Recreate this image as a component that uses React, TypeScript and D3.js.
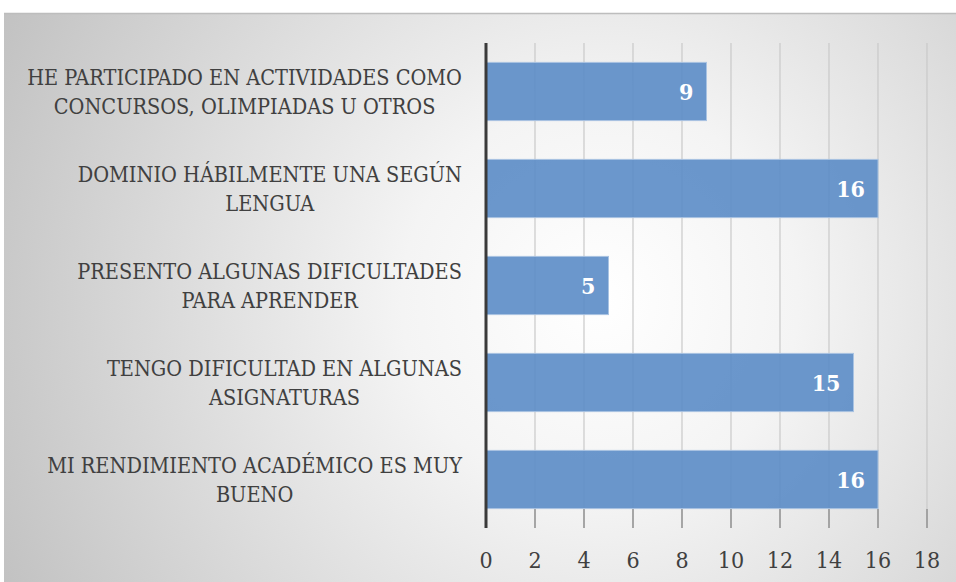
import React, { useEffect, useRef } from "react";
import * as d3 from "d3";

const categories: string[][] = [
  ["HE PARTICIPADO EN ACTIVIDADES COMO", "CONCURSOS, OLIMPIADAS U OTROS"],
  ["DOMINIO HÁBILMENTE UNA SEGÚN", "LENGUA"],
  ["PRESENTO ALGUNAS DIFICULTADES", "PARA APRENDER"],
  ["TENGO DIFICULTAD EN ALGUNAS", "ASIGNATURAS"],
  ["MI RENDIMIENTO ACADÉMICO ES MUY", "BUENO"],
];
const values: number[] = [9, 16, 5, 15, 16];
const ticks: number[] = [0, 2, 4, 6, 8, 10, 12, 14, 16, 18];

const W = 956;
const H = 582;
const FONT = "DejaVu Serif Condensed, DejaVu Serif, serif";

export default function App() {
  const ref = useRef<SVGSVGElement>(null);
  useEffect(() => {
    const svg = d3.select(ref.current!);
    svg.selectAll("*").remove();
    const defs = svg.append("defs");
    const g = defs
      .append("radialGradient")
      .attr("id", "bg")
      .attr("gradientUnits", "userSpaceOnUse")
      .attr("cx", 600)
      .attr("cy", 300)
      .attr("r", 660);
    g.append("stop").attr("offset", "0").attr("stop-color", "#ffffff");
    g.append("stop").attr("offset", "0.3").attr("stop-color", "#f4f4f4");
    g.append("stop").attr("offset", "1").attr("stop-color", "#c2c2c2");

    svg.append("rect").attr("x", 4).attr("y", 13).attr("width", W - 4).attr("height", H - 13).attr("fill", "url(#bg)");
    svg.append("line").attr("x1", 4).attr("x2", W).attr("y1", 13.5).attr("y2", 13.5).attr("stroke", "#bdbdbd").attr("stroke-width", 1.5);

    const x = d3.scaleLinear().domain([0, 18]).range([486, 927]);
    const y = d3.scaleBand<number>().domain(d3.range(categories.length)).range([43, 528]).paddingInner(0.4).paddingOuter(0.2);

    svg
      .append("g")
      .selectAll("line")
      .data(ticks.slice(1))
      .join("line")
      .attr("x1", (d) => x(d))
      .attr("x2", (d) => x(d))
      .attr("y1", 43)
      .attr("y2", 528)
      .attr("stroke", "#c9c9c9")
      .attr("stroke-width", 1.2);
    svg
      .append("g")
      .selectAll("line")
      .data(ticks.slice(1))
      .join("line")
      .attr("x1", (d) => x(d))
      .attr("x2", (d) => x(d))
      .attr("y1", 509)
      .attr("y2", 528)
      .attr("stroke", "#8a8a8a")
      .attr("stroke-width", 1.3);

    svg
      .append("g")
      .selectAll("rect")
      .data(values)
      .join("rect")
      .attr("x", x(0))
      .attr("y", (_, i) => y(i)!)
      .attr("width", (d) => x(d) - x(0))
      .attr("height", y.bandwidth())
      .attr("fill", "#5b8cc6")
      .attr("fill-opacity", 0.9)
      .attr("stroke", "#a9c3e2")
      .attr("stroke-width", 1);

    svg
      .append("g")
      .selectAll("text")
      .data(values)
      .join("text")
      .attr("x", (d) => x(d) - 13)
      .attr("y", (_, i) => y(i)! + y.bandwidth() / 2)
      .attr("dy", "0.36em")
      .attr("text-anchor", "end")
      .attr("fill", "#ffffff")
      .attr("font-weight", "bold")
      .attr("font-family", FONT)
      .attr("font-size", 23)
      .text((d) => String(d));

    svg.append("line").attr("x1", x(0)).attr("x2", x(0)).attr("y1", 43).attr("y2", 528).attr("stroke", "#3a3a3a").attr("stroke-width", 3);

    svg
      .append("g")
      .selectAll("text")
      .data(ticks)
      .join("text")
      .attr("x", (d) => x(d))
      .attr("y", 560)
      .attr("dy", "0.36em")
      .attr("text-anchor", "middle")
      .attr("fill", "#404040")
      .attr("font-family", FONT)
      .attr("font-size", 23)
      .text((d) => String(d));

    const right = 462;
    categories.forEach((lines, i) => {
      const cy = y(i)! + y.bandwidth() / 2;
      const t = svg
        .append("text")
        .attr("font-family", FONT)
        .attr("font-size", 21.5)
        .attr("fill", "#404040")
        .attr("text-anchor", "middle");
      const spans = lines.map((l, j) =>
        t
          .append("tspan")
          .attr("y", cy + (j - (lines.length - 1) / 2) * 29)
          .attr("dy", "0.36em")
          .text(l)
      );
      const maxW = d3.max(spans, (s) => (s.node() as SVGTSpanElement).getComputedTextLength()) || 0;
      spans.forEach((s) => s.attr("x", right - maxW / 2));
    });
  }, []);
  return <svg ref={ref} width={W} height={H} style={{ display: "block", position: "absolute", left: 0, top: 0 }} />;
}
